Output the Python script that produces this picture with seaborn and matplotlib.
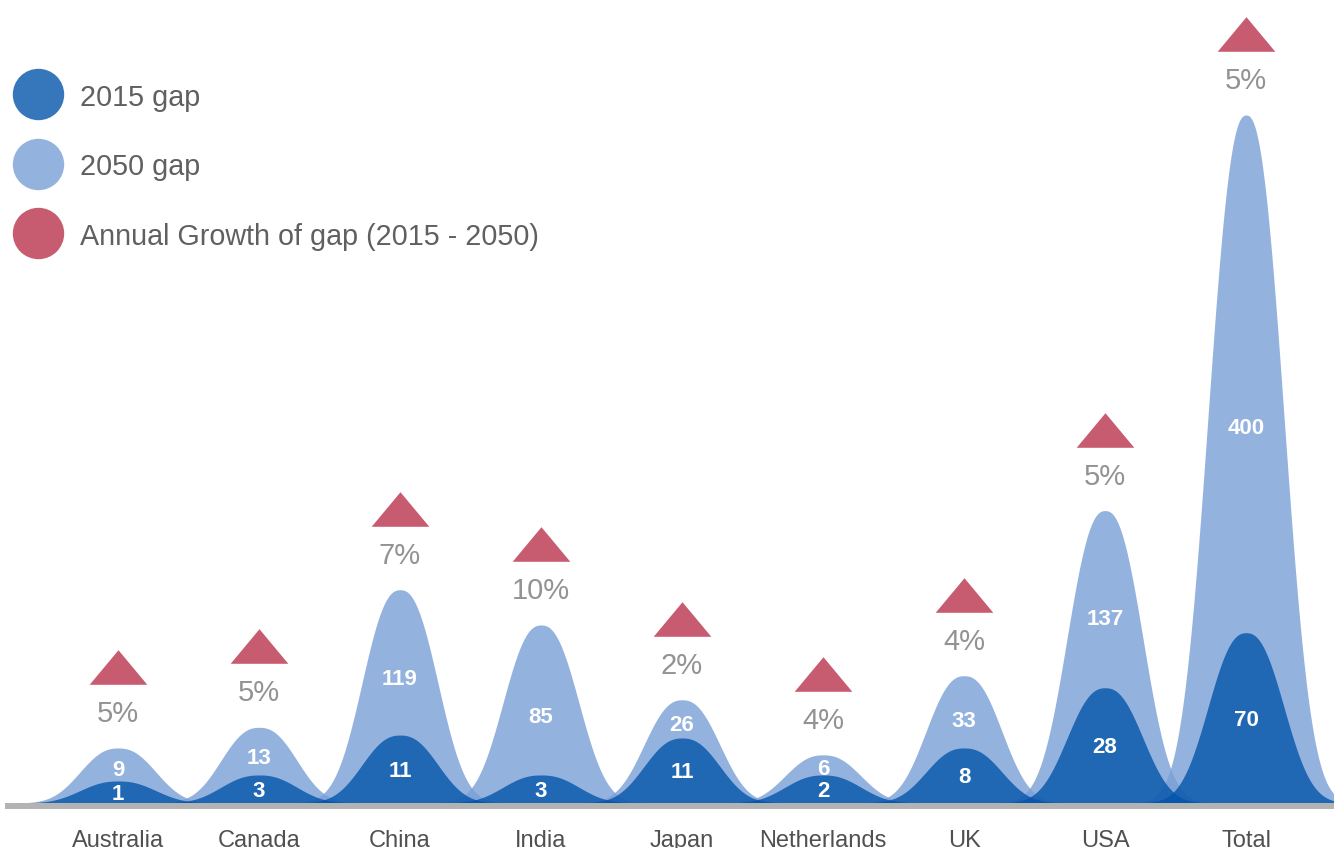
import numpy as np
import matplotlib
matplotlib.use("Agg")
import matplotlib.pyplot as plt
import seaborn as sns
from matplotlib.lines import Line2D
from matplotlib.path import Path
from matplotlib.transforms import offset_copy

# data
countries = ["Australia", "Canada", "China", "India", "Japan", "Netherlands", "UK", "USA", "Total"]
gap_2015 = [1, 3, 11, 3, 11, 2, 8, 28, 70]
gap_2050 = [9, 13, 119, 85, 26, 6, 33, 137, 400]
growth = ["5%", "5%", "7%", "10%", "2%", "4%", "4%", "5%", "5%"]
# column heights as drawn (hidden value axis, Total 2050 = 400)
height_2015 = [12.8, 16.3, 39.5, 16.3, 37.8, 16.3, 32, 67, 99]
height_2050 = [32, 44, 124, 103.5, 60, 28, 74, 170, 400]

DARK = "#0354AA"
LIGHT = "#7A9FD6"
RED = "#C75B70"

sns.set_theme(style="white")
plt.rcParams['font.family'] = ['Liberation Sans', 'DejaVu Sans']

fig = plt.figure(figsize=(13.34, 8.48), dpi=100)
ax = fig.add_axes([8 / 1334, 42 / 848, 1326 / 1334, 806 / 848])


def bell(center, height):
    # curved column: rounded top, steep sides, thin flared tails
    x = np.linspace(center - 1.0, center + 1.0, 400)
    y = height * np.exp(-(np.abs(x - center) / 0.339) ** 2.4)
    return x, y


for i in range(len(countries)):
    x, y = bell(i, height_2050[i])
    ax.fill_between(x, 0, y, color=LIGHT, alpha=0.8, lw=0, zorder=2)
    x, y = bell(i, height_2015[i])
    ax.fill_between(x, 0, y, color=DARK, alpha=0.8, lw=0, zorder=3)

# value labels
for i in range(len(countries)):
    ax.text(i, height_2015[i] * 0.5, str(gap_2015[i]), ha="center", va="center_baseline",
            color="white", fontsize=16, fontweight="bold", zorder=5)
    ylab = height_2015[i] + 0.4 * (height_2050[i] - height_2015[i])
    ax.text(i, ylab, str(gap_2050[i]), ha="center", va="center_baseline",
            color="white", fontsize=16, fontweight="bold", zorder=5)

# growth triangles and percentages above the 2050 peaks
tri = Path([(-1, -0.6), (1, -0.6), (0, 0.6), (-1, -0.6)],
           [Path.MOVETO, Path.LINETO, Path.LINETO, Path.CLOSEPOLY])
pos = np.arange(len(countries))
sns.scatterplot(x=pos, y=height_2050, marker=tri, s=41.5 ** 2, color=RED, linewidth=0,
                ax=ax, zorder=6, transform=offset_copy(ax.transData, fig, y=58.3, units="points"))
for i in range(len(countries)):
    ax.annotate(growth[i], (i, height_2050[i]), xytext=(0, 26.6), textcoords="offset points",
                ha="center", va="center_baseline", fontsize=21, color="#939393", zorder=6)

ax.set_xlim(-0.780, 8.624)
ax.set_ylim(-3 / 1.72, 803 / 1.72)
ax.set_xticks(pos, countries)
ax.tick_params(axis="x", length=0, pad=17.6, labelsize=17, labelcolor="#505050")
ax.set_yticks([])
for s in ["top", "left", "right"]:
    ax.spines[s].set_visible(False)
ax.spines["bottom"].set_color("#B3B3B3")
ax.spines["bottom"].set_linewidth(4.3)
ax.spines["bottom"].set_zorder(7)
ax.set_facecolor("none")

handles = [
    Line2D([], [], ls="", marker="o", ms=37, mew=0, color=DARK, alpha=0.8),
    Line2D([], [], ls="", marker="o", ms=37, mew=0, color=LIGHT, alpha=0.8),
    Line2D([], [], ls="", marker="o", ms=37, mew=0, color=RED),
]
fig.legend(handles, ["2015 gap", "2050 gap", "Annual Growth of gap (2015 - 2050)"],
           loc="upper left", bbox_to_anchor=(10.3 / 1334, 1 - 83 / 848), frameon=False,
           borderpad=0, borderaxespad=0, handlelength=1.93, handleheight=1.0,
           handletextpad=0.49, labelspacing=1.42, fontsize=20.7, labelcolor="#606060")

fig.savefig("out.png", dpi=100)
